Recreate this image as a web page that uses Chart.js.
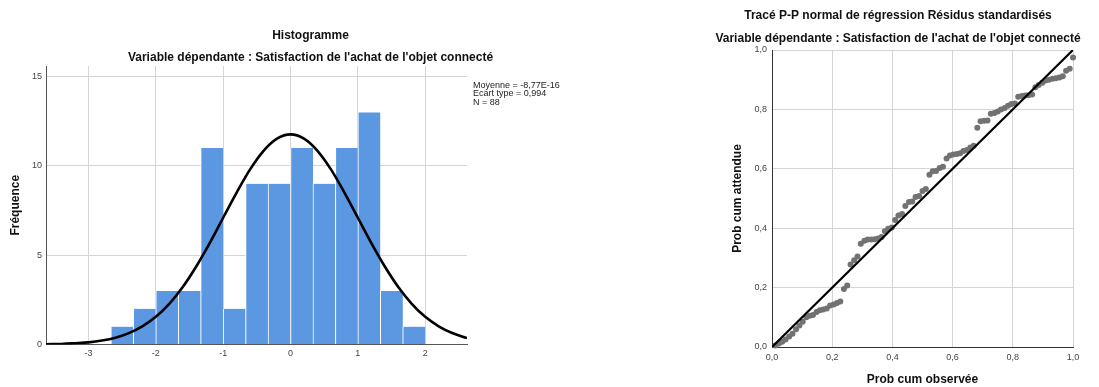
<!DOCTYPE html>
<html>
<head>
<meta charset="utf-8">
<script src="https://cdn.jsdelivr.net/npm/chart.js@4.4.1/dist/chart.umd.min.js"></script>
<style>
  body { margin: 0; background: #fff; width: 1099px; height: 387px; position: relative; overflow: hidden; }
  canvas { position: absolute; top: 0; }
  #histo { left: 0; }
  #pp { left: 697px; }
</style>
</head>
<body>
<canvas id="histo" width="621" height="387"></canvas>
<canvas id="pp" width="402" height="387"></canvas>
<script>
// --- histogram data (bins of 1/3) ---
var binCenters = [-2.5, -2.167, -1.833, -1.5, -1.167, -0.833, -0.5, -0.167, 0.167, 0.5, 0.833, 1.167, 1.5, 1.833];
var binCounts = [1, 2, 3, 3, 11, 2, 9, 9, 11, 9, 11, 13, 3, 1];

// normal curve, read at a few points
var curveX = [-3.63, -3.4, -3.2, -3.0, -2.8, -2.6, -2.4, -2.2, -2.0, -1.8, -1.6, -1.4, -1.2, -1.0, -0.8, -0.6, -0.4, -0.2, 0, 0.2, 0.4, 0.6, 0.8, 1.0, 1.2, 1.4, 1.6, 1.8, 2.0, 2.2, 2.4, 2.62];
var curveY = [0.015, 0.03, 0.07, 0.12, 0.22, 0.38, 0.64, 1.02, 1.55, 2.28, 3.22, 4.37, 5.68, 7.1, 8.51, 9.81, 10.85, 11.53, 11.77, 11.53, 10.85, 9.81, 8.51, 7.1, 5.68, 4.37, 3.22, 2.28, 1.55, 1.02, 0.64, 0.36];

var histXTickValues = [-3, -2, -1, 0, 1, 2];
var histXTickLabels = ['-3', '-2', '-1', '0', '1', '2'];
var histYTickValues = [0, 5, 10, 15];
var histYTickLabels = ['0', '5', '10', '15'];
var statsLines = ['Moyenne = -8,77E-16', 'Ecart type = 0,994', 'N = 88'];

// --- P-P plot data ---
var ppObserved = [0.011, 0.023, 0.034, 0.045, 0.057, 0.068, 0.080, 0.091, 0.102, 0.114, 0.125, 0.136, 0.148, 0.159, 0.170, 0.182, 0.193, 0.205, 0.216, 0.227, 0.239, 0.250, 0.261, 0.273, 0.284, 0.295, 0.307, 0.318, 0.330, 0.341, 0.352, 0.364, 0.375, 0.386, 0.398, 0.409, 0.420, 0.432, 0.443, 0.455, 0.466, 0.477, 0.489, 0.500, 0.511, 0.523, 0.534, 0.545, 0.557, 0.568, 0.580, 0.591, 0.602, 0.614, 0.625, 0.636, 0.648, 0.659, 0.670, 0.682, 0.693, 0.705, 0.716, 0.727, 0.739, 0.750, 0.761, 0.773, 0.784, 0.795, 0.807, 0.818, 0.830, 0.841, 0.852, 0.864, 0.875, 0.886, 0.898, 0.909, 0.920, 0.932, 0.943, 0.955, 0.966, 0.977, 0.989, 1.000];
var ppExpected = [0.005, 0.012, 0.018, 0.025, 0.035, 0.045, 0.060, 0.072, 0.085, 0.100, 0.105, 0.108, 0.118, 0.124, 0.126, 0.130, 0.140, 0.143, 0.148, 0.153, 0.195, 0.207, 0.278, 0.292, 0.305, 0.348, 0.358, 0.362, 0.362, 0.363, 0.365, 0.370, 0.390, 0.398, 0.402, 0.428, 0.443, 0.448, 0.475, 0.488, 0.490, 0.505, 0.508, 0.525, 0.532, 0.580, 0.592, 0.593, 0.603, 0.607, 0.635, 0.645, 0.648, 0.650, 0.652, 0.660, 0.663, 0.672, 0.678, 0.738, 0.760, 0.762, 0.763, 0.785, 0.788, 0.793, 0.800, 0.805, 0.812, 0.818, 0.820, 0.843, 0.845, 0.847, 0.848, 0.850, 0.875, 0.882, 0.890, 0.897, 0.900, 0.903, 0.905, 0.907, 0.912, 0.930, 0.937, 0.975];
var refLineX = [0, 1];
var refLineY = [0, 1];
var ppTickLabels = ['0,0', '0,2', '0,4', '0,6', '0,8', '1,0'];

var FONT = "'Liberation Sans', Arial, sans-serif";
var GRID = '#d5d5d5';
var AXIS = '#555';

Chart.defaults.font.family = FONT;
Chart.defaults.animation = false;

function pairs(xs, ys) {
    return xs.map(function(x, i) { return {x: x, y: ys[i]}; });
}

function lookupLabel(values, labels) {
    return function(v) {
        var i = values.indexOf(Math.round(v * 1000) / 1000);
        return i >= 0 ? labels[i] : '';
    };
}

// draws the little stats block at the right of the histogram
var statsPlugin = {
    id: 'statsText',
    afterDraw: function(chart) {
        var ctx = chart.ctx;
        var area = chart.chartArea;
        ctx.save();
        ctx.font = '9px ' + FONT;
        ctx.fillStyle = '#222';
        ctx.textBaseline = 'middle';
        statsLines.forEach(function(line, i) {
            ctx.fillText(line, area.right + 6, area.top + 19.5 + i * 8.3);
        });
        ctx.restore();
    }
};

var histChart = new Chart(document.getElementById('histo'), {
    type: 'bar',
    data: {
        datasets: [
            {
                type: 'line',
                data: pairs(curveX, curveY),
                borderColor: '#000',
                borderWidth: 2.6,
                pointRadius: 0,
                tension: 0.35,
                order: 0
            },
            {
                type: 'bar',
                data: pairs(binCenters, binCounts),
                backgroundColor: '#5c98e1',
                borderColor: '#fff',
                borderWidth: {left: 1, right: 0, top: 0, bottom: 0},
                borderSkipped: false,
                barPercentage: 1,
                categoryPercentage: 1,
                order: 1
            }
        ]
    },
    options: {
        responsive: false,
        devicePixelRatio: 1,
        layout: {padding: 0},
        plugins: {
            legend: {display: false},
            tooltip: {enabled: false},
            title: {
                display: true,
                text: 'Histogramme',
                color: '#111',
                font: {size: 12, weight: 'bold'},
                padding: {top: 28.5, bottom: 0}
            },
            subtitle: {
                display: true,
                text: "Variable dépendante : Satisfaction de l'achat de l'objet connecté",
                color: '#111',
                font: {size: 12, weight: 'bold'},
                padding: {top: 7.2, bottom: 1.5}
            }
        },
        scales: {
            x: {
                type: 'linear',
                min: -3.63,
                max: 2.62,
                offset: false,
                grid: {color: GRID, drawTicks: false, offset: false},
                border: {color: AXIS},
                ticks: {
                    stepSize: 1,
                    includeBounds: false,
                    padding: 4,
                    color: '#444',
                    font: {size: 9},
                    callback: lookupLabel(histXTickValues, histXTickLabels)
                },
                afterFit: function(s) { s.height = 42.5; }
            },
            y: {
                min: 0,
                max: 15.6,
                grid: {color: GRID, drawTicks: false},
                border: {color: AXIS},
                ticks: {
                    stepSize: 5,
                    includeBounds: false,
                    padding: 4,
                    color: '#444',
                    font: {size: 9},
                    callback: lookupLabel(histYTickValues, histYTickLabels)
                },
                title: {
                    display: true,
                    text: 'Fréquence',
                    color: '#111',
                    font: {size: 12, weight: 'bold'},
                    padding: {top: 8, bottom: 0}
                },
                afterFit: function(s) { s.width = 46; }
            },
            // empty right scale that keeps room for the stats text
            statsRoom: {
                position: 'right',
                display: true,
                grid: {display: false},
                border: {display: false},
                ticks: {display: false},
                afterFit: function(s) { s.width = 154; }
            }
        }
    },
    plugins: [statsPlugin]
});

var ppChart = new Chart(document.getElementById('pp'), {
    type: 'scatter',
    data: {
        datasets: [
            {
                type: 'line',
                data: pairs(refLineX, refLineY),
                borderColor: '#000',
                borderWidth: 2.2,
                pointRadius: 0,
                order: 0
            },
            {
                data: pairs(ppObserved, ppExpected),
                backgroundColor: '#727272',
                borderWidth: 0,
                pointRadius: 3,
                clip: 4,
                order: 1
            }
        ]
    },
    options: {
        responsive: false,
        devicePixelRatio: 1,
        layout: {padding: 0},
        plugins: {
            legend: {display: false},
            tooltip: {enabled: false},
            title: {
                display: true,
                text: 'Tracé P-P normal de régression Résidus standardisés',
                color: '#111',
                font: {size: 12, weight: 'bold'},
                padding: {top: 8.5, bottom: 0}
            },
            subtitle: {
                display: true,
                text: "Variable dépendante : Satisfaction de l'achat de l'objet connecté",
                color: '#111',
                font: {size: 12, weight: 'bold'},
                padding: {top: 8.9, bottom: 3.8}
            }
        },
        scales: {
            x: {
                type: 'linear',
                min: 0,
                max: 1,
                grid: {color: GRID, drawTicks: false},
                border: {color: '#333'},
                ticks: {
                    stepSize: 0.2,
                    padding: 5,
                    color: '#444',
                    font: {size: 9},
                    callback: function(v, i) { return ppTickLabels[i]; }
                },
                title: {
                    display: true,
                    text: 'Prob cum observée',
                    color: '#111',
                    font: {size: 12, weight: 'bold'},
                    padding: {top: 10, bottom: 0}
                },
                afterFit: function(s) { s.height = 40; }
            },
            y: {
                min: 0,
                max: 1,
                grid: {color: GRID, drawTicks: false},
                border: {color: '#333'},
                ticks: {
                    stepSize: 0.2,
                    padding: 5,
                    color: '#444',
                    font: {size: 9},
                    callback: function(v, i) { return ppTickLabels[i]; }
                },
                title: {
                    display: true,
                    text: 'Prob cum attendue',
                    color: '#111',
                    font: {size: 12, weight: 'bold'},
                    padding: {top: 33, bottom: 0}
                },
                afterFit: function(s) { s.width = 75; }
            },
            rightRoom: {
                position: 'right',
                display: true,
                grid: {display: false},
                border: {display: false},
                ticks: {display: false},
                afterFit: function(s) { s.width = 26; }
            }
        }
    }
});
</script>
</body>
</html>
